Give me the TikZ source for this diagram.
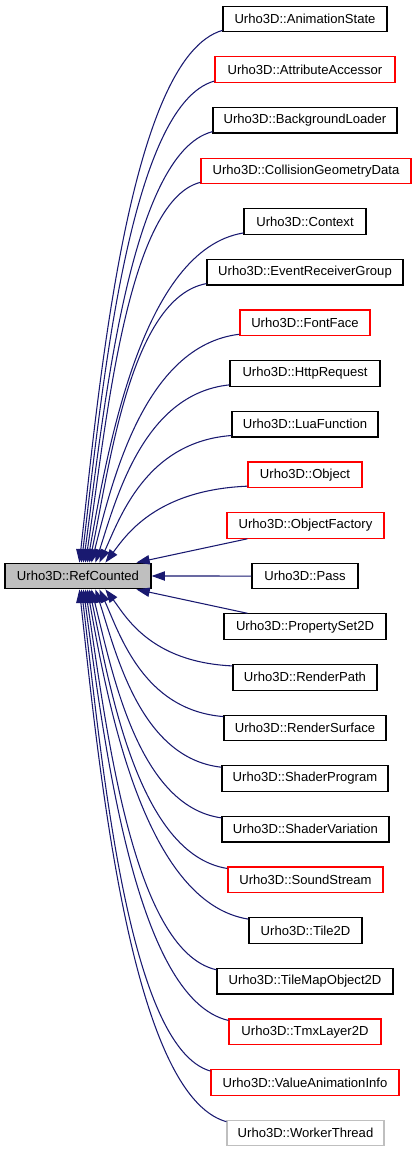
\documentclass[tikz,border=0pt]{standalone}
\usepackage{fontspec}
\newfontfamily\dfont{Liberation Sans}
\usetikzlibrary{arrows.meta,calc}
\definecolor{edgeblue}{HTML}{191970}
\definecolor{boxgray}{HTML}{BFBFBF}
\definecolor{boxred}{HTML}{FF0000}
\definecolor{boxblack}{HTML}{000000}
\begin{document}
\begin{tikzpicture}[x=0.75pt,y=-0.75pt,
  box/.style={draw=#1, line width=0.9pt, fill=white, inner sep=0pt,
    minimum height=19.2pt, font=\dfont\fontsize{9.8}{11}\selectfont, text=black},
  box/.default=boxblack,
  edge/.style={draw=edgeblue, line width=0.8pt, -{Triangle[length=10pt,width=7pt]}}]
\useasboundingbox (0,0) rectangle (416,1152);
\node[box, fill=boxgray, minimum width=109.5pt] (ref) at (78,576) {Urho3D::RefCounted};
\foreach \i/\lab/\col/\l/\r in {
  0/AnimationState/boxblack/223/387,
  1/AttributeAccessor/boxred/215/395,
  2/BackgroundLoader/boxblack/213/397,
  3/CollisionGeometryData/boxred/201/411,
  4/Context/boxblack/244/366,
  5/EventReceiverGroup/boxblack/207/403,
  6/FontFace/boxred/240/370,
  7/HttpRequest/boxblack/230/380,
  8/LuaFunction/boxblack/232/378,
  9/Object/boxred/248/362,
  10/ObjectFactory/boxred/227/384,
  11/Pass/boxblack/252/358,
  12/PropertySet2D/boxblack/224/386,
  13/RenderPath/boxblack/233/377,
  14/RenderSurface/boxblack/224/386,
  15/ShaderProgram/boxblack/222/388,
  16/ShaderVariation/boxblack/222/389,
  17/SoundStream/boxred/228/383,
  18/Tile2D/boxblack/249/362,
  19/TileMapObject2D/boxblack/217/393,
  20/TmxLayer2D/boxred/229/381,
  21/ValueAnimationInfo/boxred/211/399,
  22/WorkerThread/boxgray/227/384}{
  \pgfmathsetmacro\cx{(\l+\r)/2}
  \pgfmathsetmacro\cy{19+50.64*\i}
  \pgfmathsetmacro\w{(\r-\l)*0.75}
  \node[box=\col, minimum width=\w pt] (c\i) at (\cx,\cy) {Urho3D::\lab};
}
% upper edges
\foreach \i/\l/\ex in {0/223/80,1/215/82,2/213/84,3/201/86,4/244/88,5/207/90,6/240/92,7/230/96,8/232/100,9/248/106}{
  \pgfmathsetmacro\ys{19+50.64*\i+12.75-2}
  \pgfmathsetmacro\ax{-0.65*(\l-\ex)}
  \pgfmathsetmacro\ay{0.05*(563-\ys)}
  \pgfmathsetmacro\by{-0.34*(563-\ys)}
  \draw[edge] ([shift={(0,-2)}]c\i.south west) .. controls +(\ax,\ay) and +(20,\by) .. ($(ref.north west)+(\ex-5,0)$);
}
% lower edges
\foreach \i/\l/\ex in {13/233/106,14/224/100,15/222/96,16/222/92,17/228/90,18/249/88,19/217/86,20/229/84,21/211/82,22/227/80}{
  \pgfmathsetmacro\ys{19+50.64*\i-12.75+2}
  \pgfmathsetmacro\ax{-0.65*(\l-\ex)}
  \pgfmathsetmacro\ay{-0.05*(\ys-589)}
  \pgfmathsetmacro\by{0.34*(\ys-589)}
  \draw[edge] ([shift={(0,2)}]c\i.north west) .. controls +(\ax,\ay) and +(20,\by) .. ($(ref.south west)+(\ex-5,0)$);
}
\draw[edge] ([shift={(21,0)}]c10.south west) -- ($(ref.north west)+(132,0)$);
\draw[edge] (c11.west) -- (ref.east);
\draw[edge] ([shift={(24,0)}]c12.north west) -- ($(ref.south west)+(132,0)$);
\end{tikzpicture}
\end{document}
